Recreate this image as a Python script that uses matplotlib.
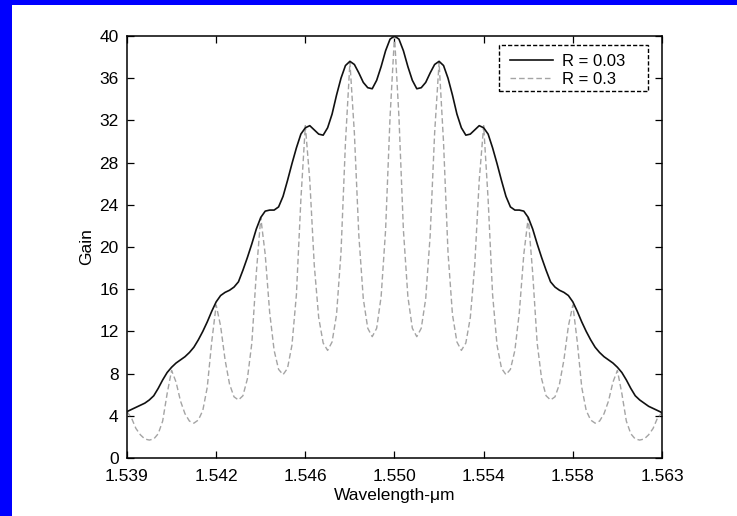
import numpy as np
import matplotlib
matplotlib.use("Agg")
import matplotlib.pyplot as plt
from matplotlib.patches import Rectangle

plt.rcParams['font.family'] = ['Liberation Sans', 'DejaVu Sans']

# ---- data ----
wavelength = np.linspace(1.539, 1.563, 121)

gain_r003 = [4.4, 4.6, 4.8, 5.0, 5.2, 5.5, 5.9, 6.6, 7.4, 8.1,
             8.6, 9.0, 9.3, 9.6, 10.0, 10.5, 11.2, 12.0, 12.9, 13.9,
             14.8, 15.4, 15.7, 15.9, 16.2, 16.7, 17.8, 19.0, 20.3, 21.7,
             22.8, 23.4, 23.5, 23.5, 23.8, 24.8, 26.3, 27.9, 29.4, 30.7,
             31.3, 31.5, 31.1, 30.7, 30.6, 31.3, 32.6, 34.4, 36.0, 37.2,
             37.6, 37.3, 36.5, 35.6, 35.1, 35.0, 35.8, 37.1, 38.6, 39.7,
             40.0,
             39.7, 38.6, 37.1, 35.8, 35.0, 35.1, 35.6, 36.5, 37.3, 37.6,
             37.2, 36.0, 34.4, 32.6, 31.3, 30.6, 30.7, 31.1, 31.5, 31.3,
             30.7, 29.4, 27.9, 26.3, 24.8, 23.8, 23.5, 23.5, 23.4, 22.8,
             21.7, 20.3, 19.0, 17.8, 16.7, 16.2, 15.9, 15.7, 15.4, 14.8,
             13.9, 12.9, 12.0, 11.2, 10.5, 10.0, 9.6, 9.3, 9.0, 8.6,
             8.1, 7.4, 6.6, 5.9, 5.5, 5.2, 4.9, 4.7, 4.5, 4.3]

gain_r03 = [4.4, 3.8, 2.8, 2.2, 1.8, 1.7, 1.8, 2.3, 3.5, 6.1,
            8.3, 7.2, 5.4, 4.2, 3.5, 3.3, 3.6, 4.5, 6.7, 11.0,
            14.5, 12.5, 9.3, 7.0, 5.8, 5.5, 5.9, 7.5, 10.9, 17.5,
            22.8, 19.3, 13.8, 10.2, 8.4, 7.9, 8.5, 10.7, 15.5, 24.5,
            31.5, 26.3, 18.3, 13.3, 10.9, 10.2, 11.0, 13.6, 19.5, 29.9,
            37.5, 30.8, 21.1, 15.1, 12.3, 11.5, 12.3, 15.3, 21.6, 32.3,
            40.0,
            32.3, 21.6, 15.3, 12.3, 11.5, 12.3, 15.1, 21.1, 30.8, 37.5,
            29.9, 19.5, 13.6, 11.0, 10.2, 10.9, 13.3, 18.3, 26.3, 31.5,
            24.5, 15.5, 10.7, 8.5, 7.9, 8.4, 10.2, 13.8, 19.3, 22.8,
            17.5, 10.9, 7.5, 5.9, 5.5, 5.8, 7.0, 9.3, 12.5, 14.5,
            11.0, 6.7, 4.5, 3.6, 3.3, 3.5, 4.2, 5.4, 7.2, 8.3,
            6.1, 3.5, 2.3, 1.8, 1.7, 1.8, 2.2, 2.8, 3.8, 4.3]

xtick_pos = np.linspace(1.539, 1.563, 7)
xtick_labels = ['1.539', '1.542', '1.546', '1.550', '1.554', '1.558', '1.563']
ytick_pos = list(range(0, 41, 4))
labels = ['R = 0.03', 'R = 0.3']

# ---- figure ----
W, H = 737, 516
fig = plt.figure(figsize=(W / 100, H / 100), dpi=100)
fig.patch.set_facecolor('#0000ff')
bg = fig.add_axes([12 / W, 0, 1 - 12 / W, (H - 5) / H])
bg.set_facecolor('white')
bg.set_xticks([]); bg.set_yticks([])
for s in bg.spines.values():
    s.set_visible(False)

ax = fig.add_axes([127 / W, (H - 458) / H, 535 / W, 422 / H])
ax.set_facecolor('white')

l1, = ax.plot(wavelength, gain_r003, color='#111111', lw=1.2, label=labels[0], zorder=3)
l2, = ax.plot(wavelength, gain_r03, color='#a4a4a4', lw=1.0, dashes=(4.0, 2.2),
              label=labels[1], zorder=2)

ax.set_xlim(1.539, 1.563)
ax.set_ylim(0, 40)
ax.set_xticks(xtick_pos)
ax.set_xticklabels(xtick_labels)
ax.set_yticks(ytick_pos)
ax.tick_params(direction='in', length=5, width=0.9, top=True, right=True,
               labelsize=12.5, colors='black')
ax.tick_params(axis='x', pad=8)
ax.tick_params(axis='y', pad=6)
for s in ax.spines.values():
    s.set_linewidth(1.1)
    s.set_color('black')

ax.set_xlabel('Wavelength-\u03bcm', fontsize=12.5, labelpad=3)
ax.set_ylabel('Gain', fontsize=12.5, labelpad=4)

# legend frame (dashed box) and entries
frame = Rectangle(((499 - 127) / 535, (458 - 91) / 422), 149 / 535, 46 / 422,
                  transform=ax.transAxes, facecolor='white', edgecolor='black',
                  lw=1.0, linestyle=(0, (3, 1.5)), zorder=5)
ax.add_patch(frame)
leg = ax.legend(handles=[l1, l2], loc='upper left',
                bbox_to_anchor=((510 - 127) / 535, (458 - 54) / 422),
                frameon=False, borderpad=0, borderaxespad=0,
                handlelength=2.6, handletextpad=0.55, labelspacing=0.15,
                fontsize=12)
leg.set_zorder(6)

fig.savefig('out.png', dpi=100, facecolor=fig.get_facecolor())
